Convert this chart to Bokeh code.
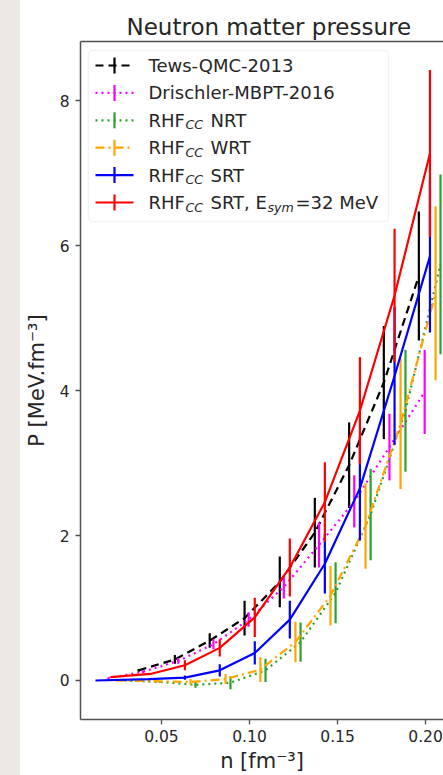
import numpy as np
from bokeh.plotting import figure
from bokeh.models import (Range1d, LinearAxis, FixedTicker, BoxAnnotation, Spacer,
                          ColumnDataSource, NumeralTickFormatter)
from bokeh.layouts import row
from bokeh.core.properties import value
from bokeh.embed import file_html
from bokeh.resources import INLINE

# ---------------- data ----------------
tews_n   = [0.0370, 0.0576, 0.0774, 0.0972, 0.1172, 0.1371, 0.1566, 0.1763, 0.1962]
tews_p   = [0.14, 0.29, 0.55, 0.86, 1.36, 2.04, 2.97, 4.11, 5.58]
tews_e   = [0.02, 0.06, 0.10, 0.24, 0.35, 0.48, 0.59, 0.78, 0.89]

dris_n   = [0.0195, 0.0395, 0.0595, 0.0795, 0.0995, 0.1195, 0.1395, 0.1595, 0.1795, 0.1995]
dris_p   = [0.03, 0.12, 0.27, 0.50, 0.84, 1.29, 1.87, 2.47, 3.22, 3.98]
dris_e   = [0.005, 0.02, 0.04, 0.07, 0.10, 0.16, 0.31, 0.36, 0.46, 0.58]

nrt_n    = [0.0290, 0.0490, 0.0693, 0.0892, 0.1091, 0.1290, 0.1489, 0.1688, 0.1886, 0.2085]
nrt_p    = [0.00, -0.02, -0.06, -0.03, 0.14, 0.53, 1.21, 2.29, 3.72, 5.74]
nrt_e    = [0.00, 0.01, 0.04, 0.09, 0.16, 0.27, 0.42, 0.63, 0.84, 1.24]

wrt_n    = [0.0240, 0.0465, 0.0665, 0.0864, 0.1062, 0.1261, 0.1460, 0.1659, 0.1858, 0.2057]
wrt_p    = [0.00, -0.01, -0.02, 0.02, 0.15, 0.53, 1.17, 2.13, 3.54, 5.34]
wrt_e    = [0.00, 0.01, 0.04, 0.07, 0.17, 0.28, 0.41, 0.59, 0.90, 1.20]

srt_n    = [0.0125, 0.0430, 0.0633, 0.0831, 0.1030, 0.1229, 0.1428, 0.1627, 0.1824, 0.2025]
srt_p    = [0.00, 0.02, 0.04, 0.14, 0.38, 0.84, 1.61, 2.65, 4.20, 5.85]
srt_e    = [0.00, 0.01, 0.03, 0.085, 0.16, 0.26, 0.41, 0.72, 0.95, 1.05]

esym_n   = [0.0210, 0.0437, 0.0633, 0.0831, 0.1030, 0.1229, 0.1428, 0.1627, 0.1824, 0.2025]
esym_p   = [0.046, 0.09, 0.21, 0.45, 0.87, 1.56, 2.46, 3.72, 5.31, 7.27]
esym_e   = [0.005, 0.01, 0.07, 0.12, 0.27, 0.40, 0.55, 0.74, 0.92, 1.15]

x_ticks = [0.05, 0.10, 0.15, 0.20]
y_ticks = [0, 2, 4, 6, 8]

title_text = "Neutron matter pressure"
x_label = "n [fm\u207b\u00b3]"
y_label = "P [MeV.fm\u207b\u00b3]"

# ---------------- styling ----------------
FONT = "DejaVu Sans"
TXT = "#262626"
SPINE = "#505050"
LW = 2.2

series = [
    dict(n=tews_n, p=tews_p, e=tews_e, color="black",   dash="8 5"),
    dict(n=dris_n, p=dris_p, e=dris_e, color="#ff00ff", dash="2 4"),
    dict(n=nrt_n,  p=nrt_p,  e=nrt_e,  color="#2ca02c", dash="2 4"),
    dict(n=wrt_n,  p=wrt_p,  e=wrt_e,  color="#ffa500", dash="9 4 2 4"),
    dict(n=srt_n,  p=srt_p,  e=srt_e,  color="blue",    dash="solid"),
    dict(n=esym_n, p=esym_p, e=esym_e, color="red",     dash="solid"),
]

W, H = 423, 775
BL, BR, BT, BB = 60, 0, 41, 56
FW, FH = W - BL - BR, H - BT - BB

p = figure(width=W, height=H, output_backend="svg", toolbar_location=None,
           x_range=Range1d(0.004, 0.2102), y_range=Range1d(-0.538, 8.814),
           min_border_left=BL, min_border_right=BR, min_border_top=BT,
           min_border_bottom=BB)
p.outline_line_color = None
p.background_fill_color = "white"
p.border_fill_color = "white"
p.xgrid.visible = False
p.ygrid.visible = False

p.title.text = title_text
p.title.text_font = FONT
p.title.text_font_size = "23px"
p.title.text_font_style = "normal"
p.title.text_color = TXT
p.title.align = "left"
p.title.offset = 46
p.title.standoff = 3

for ax in (p.xaxis[0], p.yaxis[0]):
    ax.axis_line_color = SPINE
    ax.axis_line_width = 1.5
    ax.major_tick_line_color = SPINE
    ax.major_tick_line_width = 1.3
    ax.major_tick_out = 5
    ax.major_tick_in = 0
    ax.minor_tick_line_color = None
    ax.major_label_text_font = FONT
    ax.major_label_text_font_size = "15.5px"
    ax.major_label_text_color = TXT
    ax.axis_label_text_font = FONT
    ax.axis_label_text_font_size = "21px"
    ax.axis_label_text_font_style = "normal"
    ax.axis_label_text_color = TXT

p.xaxis[0].ticker = FixedTicker(ticks=x_ticks)
p.xaxis[0].formatter = NumeralTickFormatter(format="0.00")
p.xaxis[0].axis_label = x_label
p.xaxis[0].major_label_standoff = 5
p.xaxis[0].axis_label_standoff = 4
p.yaxis[0].ticker = FixedTicker(ticks=y_ticks)
p.yaxis[0].axis_label = y_label
p.yaxis[0].major_label_standoff = 6
p.yaxis[0].axis_label_standoff = 8

top = LinearAxis(ticker=FixedTicker(ticks=[]), axis_line_color=SPINE, axis_line_width=1.5,
                 major_tick_line_color=None, minor_tick_line_color=None,
                 major_label_text_font_size="0px")
p.add_layout(top, "above")

# ---------------- data marks ----------------
for s in series:
    n = np.array(s["n"]); v = np.array(s["p"]); e = np.array(s["e"])
    src = ColumnDataSource(dict(n=n, p=v, lo=v - e, hi=v + e))
    p.segment(x0="n", y0="lo", x1="n", y1="hi", source=src,
              line_color=s["color"], line_width=LW)
    p.line(x="n", y="p", source=src, line_color=s["color"], line_width=LW,
           line_dash=s["dash"])

# ---------------- legend (drawn in frame pixel coordinates) ----------------
p.extra_x_ranges = {"px": Range1d(0, FW)}
p.extra_y_ranges = {"px": Range1d(FH, 0)}

box = BoxAnnotation(left=8, right=308, top=9, bottom=180, x_range_name="px",
                    y_range_name="px", fill_color="white", fill_alpha=0.85,
                    line_color="#d8d8d8", line_width=1.3, border_radius=4,
                    level="underlay")
p.add_layout(box)

ROW0, STEP = 24, 27.4
H0, H1, HT, TICK = 15, 53, 34, 8
TX, SUBX, RESTX = 68, 105, 130
SUBDY = 4.5

labels_main = ["Tews-QMC-2013", "Drischler-MBPT-2016", "RHF", "RHF", "RHF", "RHF"]
labels_rest = [None, None, "NRT", "WRT", "SRT", "SRT, E"]

for i, s in enumerate(series):
    yc = ROW0 + STEP * i
    p.segment(x0=[H0], y0=[yc], x1=[H1], y1=[yc], x_range_name="px", y_range_name="px",
              line_color=s["color"], line_width=LW, line_dash=s["dash"])
    p.segment(x0=[HT], y0=[yc - TICK], x1=[HT], y1=[yc + TICK], x_range_name="px",
              y_range_name="px", line_color=s["color"], line_width=LW)
    p.text(x=[TX], y=[yc], text=[labels_main[i]], x_range_name="px", y_range_name="px",
           text_font=value(FONT), text_font_size="18px", text_baseline="middle",
           text_align="left", text_color=TXT)
    if labels_rest[i] is not None:
        p.text(x=[SUBX], y=[yc + SUBDY], text=["CC"], x_range_name="px", y_range_name="px",
               text_font=value(FONT), text_font_size="12.6px", text_font_style="italic",
               text_baseline="middle", text_align="left", text_color=TXT)
        p.text(x=[RESTX], y=[yc], text=[labels_rest[i]], x_range_name="px",
               y_range_name="px", text_font=value(FONT), text_font_size="18px",
               text_baseline="middle", text_align="left", text_color=TXT)

yl = ROW0 + STEP * 5
p.text(x=[187], y=[yl + SUBDY], text=["sym"], x_range_name="px", y_range_name="px",
       text_font=value(FONT), text_font_size="12.6px", text_font_style="italic",
       text_baseline="middle", text_align="left", text_color=TXT)
p.text(x=[215], y=[yl], text=["=32 MeV"], x_range_name="px", y_range_name="px",
       text_font=value(FONT), text_font_size="18px", text_baseline="middle",
       text_align="left", text_color=TXT)

strip = Spacer(width=20, height=H, styles={"background-color": "#ece9e4"})
layout = row(strip, p, spacing=0)

open("out.html", "w").write(file_html(layout, INLINE))
